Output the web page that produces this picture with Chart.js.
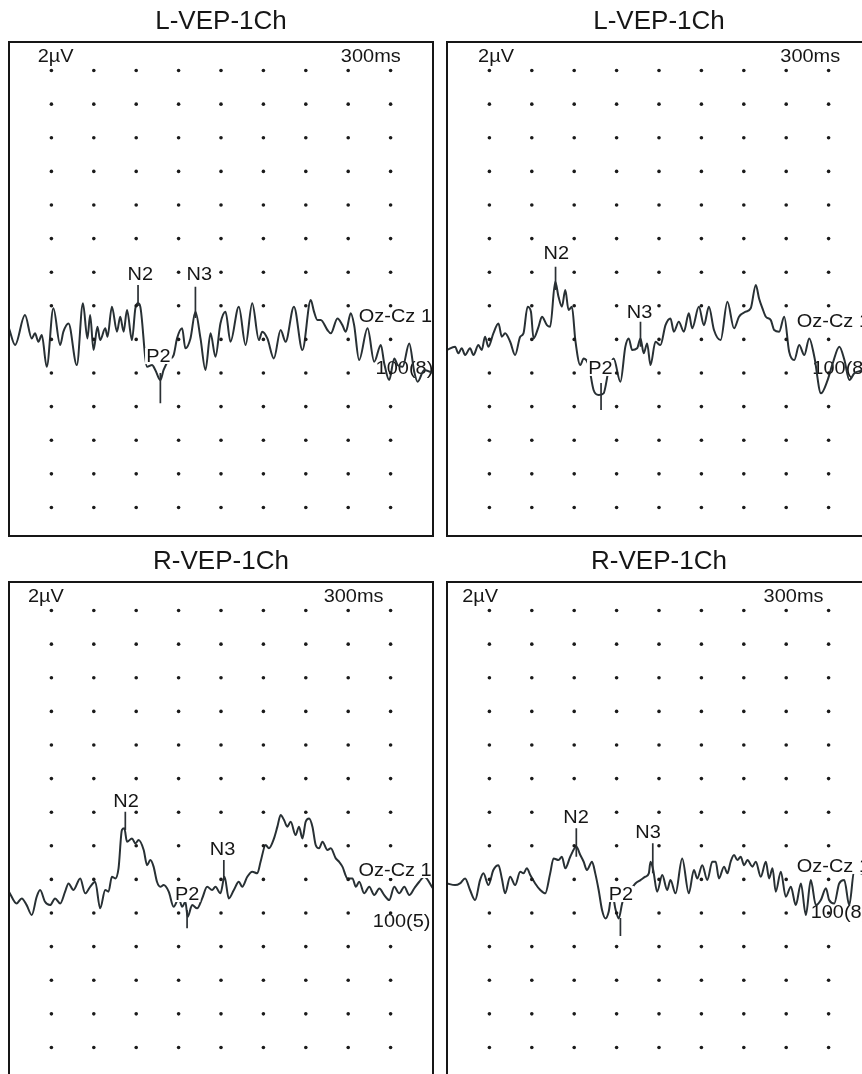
<!DOCTYPE html>
<html>
<head>
<meta charset="utf-8">
<script src="https://cdn.jsdelivr.net/npm/chart.js@4/dist/chart.umd.min.js"></script>
<style>
  html, body { margin: 0; padding: 0; background: #fff; overflow: hidden; width: 862px; height: 1074px; }
  .panel { position: absolute; width: 440px; height: 540px; }
</style>
</head>
<body>
<div class="panel" style="left:0;top:0"><canvas id="lvep1" width="440" height="540"></canvas></div>
<div class="panel" style="left:440px;top:0"><canvas id="lvep2" width="440" height="540"></canvas></div>
<div class="panel" style="left:0;top:540px"><canvas id="rvep1" width="440" height="540"></canvas></div>
<div class="panel" style="left:440px;top:540px"><canvas id="rvep2" width="440" height="540"></canvas></div>
<script>
// grid of dots: every 30 ms, every 2 µV
const gridTimes = [30, 60, 90, 120, 150, 180, 210, 240, 270];
const gridAmps = [14, 12, 10, 8, 6, 4, 2, 0, -2, -4, -6, -8, -10, -12];

// top left trace (ms / µV)
const l1Time = [0,4.3,11.3,16.1,18.4,20.8,23.2,26.7,31.4,36.2,38.5,42.1,48.0,52.3,55.5,57.4,59.8,62.6,64.5,68.1,
  69.7,72.8,76.4,78.7,81.1,83.5,87.0,89.4,91.3,92.9,97.7,101.2,103.5,107.1,109.4,113.0,116.5,118.9,122.5,124.8,
  128.4,131.9,135.5,139.0,142.6,146.1,149.6,153.2,156.7,162.6,167.4,172.1,176.8,179.2,182.8,187.4,192.2,195.7,201.6,207.6,
  213.5,215.8,218.2,220.6,225.3,227.7,232.4,235.9,238.3,241.8,244.2,247.7,253.7,258.4,263.1,265.5,269.0,272.6,275.0,278.5,
  283.2,286.7,289.1,293.8,300];
const l1Amp = [-1.34,-2.33,-0.55,-1.94,-1.64,-2.14,-1.74,-3.63,-0.15,-2.33,-1.54,-1.05,-3.53,0.15,-1.94,-0.55,-2.63,-1.24,-2.04,-1.34,
  -1.84,-0.05,-1.54,-0.65,-1.54,-0.25,-2.04,-0.15,0.15,-0.05,-3.63,-3.53,-3.82,-4.42,-3.82,-3.23,-2.93,-1.94,-1.34,-2.53,
  -1.94,-0.35,-1.94,-3.82,-1.64,-3.03,-1.05,-0.35,-2.14,-0.05,-2.33,0.15,-2.04,-1.54,-1.94,-3.13,-1.44,-2.14,-0.05,-2.63,
  0.34,-0.35,-0.85,-0.85,-1.44,-1.64,-0.75,-1.15,-1.54,-0.45,-1.15,-3.23,-1.34,-3.33,-2.33,-3.43,-4.42,-3.13,-3.53,-3.63,
  -2.24,-3.92,-4.52,-3.82,-4.02];

// top right trace
const l2Time = [0,5.7,8.0,10.4,12.8,16.3,18.7,22.2,24.6,26.9,29.3,32.8,36.4,38.8,41.1,44.7,48.2,51.8,54.1,57.0,
  59.4,61.2,64.8,67.2,70.7,73.0,76.6,78.9,81.3,83.7,86.0,88.4,90.8,94.3,96.7,100.2,103.7,107.3,110.8,114.4,
  117.9,122.7,126.2,128.6,131.0,134.5,136.9,139.2,141.6,144.0,147.5,151.0,154.6,158.1,160.5,164.0,167.6,171.1,173.5,178.2,
  181.8,185.3,188.9,193.6,198.4,203.1,206.6,211.4,214.9,218.5,220.8,223.2,225.6,229.1,231.5,235.0,238.6,242.1,245.7,249.2,
  252.8,256.3,259.9,264.6,269.3,272.9,277.6,281.2,284.7,288.2,294.3,300];
const l2Amp = [-2.63,-2.43,-2.83,-2.53,-2.93,-2.53,-2.93,-2.34,-2.63,-1.84,-2.43,-1.64,-1.05,-1.84,-1.64,-2.14,-2.93,-1.84,-1.64,-0.06,
  -0.35,-1.94,-1.24,-0.65,-1.15,-1.24,1.43,0.54,-0.05,0.94,-0.25,-0.05,-2.04,-3.53,-3.13,-3.53,-5.01,-5.31,-5.21,-3.82,
  -3.13,-4.52,-2.43,-1.94,-2.63,-2.53,-1.94,-2.83,-2.24,-3.53,-2.14,-2.34,-1.15,-0.75,-1.54,-0.95,-1.54,-0.45,-1.34,-0.06,
  -1.15,-0.06,-1.44,-2.04,0.24,-1.34,-0.65,-0.35,-0.15,1.24,0.44,-0.15,-0.65,-0.85,-1.44,-1.54,-0.65,-2.73,-3.23,-2.34,
  -2.93,-1.94,-3.03,-5.21,-4.42,-3.43,-2.43,-3.23,-4.42,-4.02,-3.82,-3.5];

// bottom left trace
const r1Time = [0,5.4,9.0,12.5,16.1,19.6,22.0,25.5,29.1,32.6,36.2,39.7,42.1,45.6,50.4,53.9,57.4,61.0,64.5,68.1,
  70.4,72.8,75.2,77.5,79.9,81.6,83.5,87.0,89.4,91.7,95.3,97.7,100.0,102.3,104.7,107.1,109.4,113.0,116.5,120.1,
  122.5,124.8,126.4,129.6,133.1,136.7,140.2,143.7,146.1,149.6,152.5,155.5,159.1,162.6,165.0,168.6,172.1,175.7,178.0,181.6,
  183.9,187.5,189.9,192.2,194.6,196.9,199.3,202.8,205.2,207.6,209.9,212.3,214.7,217.0,219.4,221.8,225.3,227.7,231.2,233.6,
  235.9,239.5,243.0,245.4,247.8,251.3,254.9,258.4,262.0,265.5,269.0,272.6,276.1,279.7,283.2,286.7,290.3,293.8,300];
const r1Amp = [-2.73,-3.43,-3.13,-3.53,-4.12,-3.03,-2.63,-3.33,-3.53,-3.13,-3.43,-2.73,-2.24,-2.63,-1.94,-2.83,-2.44,-2.14,-3.72,-2.63,
  -2.73,-1.84,-1.94,-1.34,0.94,1.04,0.24,0.44,0.14,0.34,-0.25,-1.15,-0.85,-1.24,-2.14,-2.44,-2.34,-2.73,-3.63,-3.13,
  -3.63,-3.33,-4.22,-3.53,-3.72,-3.13,-2.44,-2.63,-2.44,-2.83,-1.84,-3.13,-2.63,-2.14,-2.44,-1.84,-1.54,-1.64,-0.95,0.05,
  -0.15,0.44,1.14,1.83,1.53,1.14,1.43,0.64,1.14,0.44,1.43,1.63,1.14,0.05,-0.15,0.24,-0.25,-0.15,-0.75,-0.95,
  -1.24,-1.94,-1.94,-2.44,-2.14,-2.83,-2.44,-2.93,-2.54,-2.93,-3.23,-2.44,-2.83,-2.44,-2.93,-2.54,-2.14,-1.84,-2.54];

// bottom right trace
const r2Time = [0,5.7,9.2,12.8,16.3,19.9,23.4,25.8,29.3,32.8,36.4,38.8,41.1,44.7,48.2,51.8,54.1,56.5,58.9,62.4,
  66.0,69.5,73.0,75.4,78.9,81.3,83.7,87.2,91.5,94.3,96.7,99.0,102.6,104.9,107.3,109.7,112.1,114.4,116.8,119.1,
  121.5,123.9,126.2,129.8,133.3,136.9,140.4,142.8,144.0,145.9,148.7,152.3,155.8,158.1,161.7,166.4,171.1,174.7,177.1,180.6,
  184.2,187.7,190.1,192.4,196.0,198.4,200.7,203.1,205.5,207.8,210.2,212.6,216.1,218.5,222.0,225.6,227.9,230.3,232.6,236.2,
  239.7,243.3,246.8,250.4,253.9,257.4,261.0,264.5,268.1,270.4,274.0,277.5,281.1,284.6,288.2,292.9,300];
const r2Amp = [-2.24,-2.34,-2.24,-1.94,-2.63,-3.23,-2.04,-1.64,-2.34,-1.44,-1.15,-1.94,-2.83,-1.84,-2.34,-1.54,-1.64,-1.34,-1.74,-2.24,
  -2.63,-2.83,-1.64,-0.75,-0.85,-0.65,-1.34,-0.65,-0.06,-0.55,-0.95,-1.44,-0.95,-1.64,-2.63,-3.82,-4.32,-3.92,-2.73,-3.73,
  -4.32,-3.43,-2.83,-2.63,-2.24,-2.04,-1.84,-1.64,-0.95,-1.44,-2.73,-1.74,-2.63,-2.04,-2.83,-0.75,-2.83,-1.44,-1.94,-1.15,
  -2.04,-0.95,-0.95,-1.94,-1.24,-1.64,-0.95,-0.55,-0.85,-0.65,-1.15,-0.85,-1.24,-0.95,-1.84,-0.95,-1.94,-1.34,-2.73,-1.54,
  -3.03,-2.44,-3.53,-2.24,-4.12,-2.04,-3.53,-3.23,-2.53,-3.23,-3.43,-2.24,-2.04,-3.53,-1.44,-1.64,-1.8];

// peak ticks: [ms, top µV, bottom µV] for N2, N3, P2
const l1Marks = [[91.3, 1.24, -0.01], [131.9, 1.14, -0.72], [107.1, -4.0, -5.8]];
const l2Marks = [[76.8, 2.33, 0.94], [136.9, -0.95, -2.44], [109.0, -4.6, -6.2]];
const r1Marks = [[82.3, 2.03, 0.94], [152.0, -0.85, -2.04], [126.0, -3.82, -4.9]];
const r2Marks = [[91.5, 1.04, -0.65], [145.6, 0.15, -1.64], [122.7, -4.3, -5.37]];

// text labels: [text, ms, µV]
const l1Labels = [['2µV', 33.0, 14.87], ['300ms', 256.0, 14.87], ['N2', 92.9, 1.89], ['N3', 134.7, 1.89], ['P2', 105.7, -2.99], ['Oz-Cz 1', 273.4, -0.61]];
const l2Labels = [['2µV', 34.7, 14.87], ['300ms', 257.0, 14.87], ['N2', 77.3, 3.14], ['N3', 136.2, -0.40], ['P2', 108.5, -3.70], ['Oz-Cz 1', 273.4, -0.90]];
const r1Labels = [['2µV', 26.1, 14.87], ['300ms', 243.8, 14.87], ['N2', 82.8, 2.68], ['N3', 151.1, -0.19], ['P2', 126.0, -2.87], ['Oz-Cz 1', 273.2, -1.44]];
const r2Labels = [['2µV', 23.5, 14.87], ['300ms', 245.2, 14.87], ['N2', 91.3, 1.73], ['N3', 142.2, 0.84], ['P2', 123.0, -2.87], ['Oz-Cz 1', 273.4, -1.2]];
// sweep count, drawn under the trace
const l1Count = [['100(8)', 279.8, -3.70]];
const l2Count = [['100(8)', 278.9, -3.72]];
const r1Count = [['100(5)', 277.8, -4.46]];
const r2Count = [['100(8)', 277.7, -3.94]];

const FONT = '"Liberation Sans", Arial, sans-serif';
const INK = '#161616';

function drawTexts(chart, list, boxed) {
  const ctx = chart.ctx;
  const xs = chart.scales.x, ys = chart.scales.y;
  ctx.save();
  ctx.beginPath();
  ctx.rect(chart.chartArea.left, chart.chartArea.top, chart.chartArea.right - chart.chartArea.left, chart.chartArea.bottom - chart.chartArea.top);
  ctx.clip();
  ctx.font = '17.5px ' + FONT;
  ctx.textAlign = 'center';
  ctx.textBaseline = 'middle';
  list.forEach(([txt, t, a]) => {
    const px = xs.getPixelForValue(t), py = ys.getPixelForValue(a);
    ctx.save();
    ctx.translate(px, py);
    ctx.scale(1.14, 1);
    if (boxed) {
      const w = ctx.measureText(txt).width;
      ctx.fillStyle = '#fff';
      ctx.fillRect(-w / 2 - 1, -8, w + 2, 16);
    }
    ctx.fillStyle = INK;
    ctx.fillText(txt, 0, 1);
    ctx.restore();
  });
  ctx.restore();
}

const vepDecor = {
  id: 'vepDecor',
  beforeDatasetsDraw(chart, args, opts) {
    drawTexts(chart, opts.under, false);
  },
  afterDatasetsDraw(chart, args, opts) {
    drawTexts(chart, opts.over, true);
    const { left, top, right, bottom } = chart.chartArea;
    const ctx = chart.ctx;
    ctx.save();
    ctx.lineWidth = 2;
    ctx.strokeStyle = INK;
    ctx.strokeRect(left, top, right - left, bottom - top);
    ctx.restore();
  }
};

function makeChart(id, title, time, amp, marks, labels, counts, padLeft, padRight) {
  const dots = [];
  gridTimes.forEach(t => gridAmps.forEach(a => dots.push({ x: t, y: a })));
  const n = Math.min(time.length, amp.length);
  const trace = [];
  for (let i = 0; i < n; i++) trace.push({ x: time[i], y: amp[i] });

  const datasets = [{
    data: dots,
    showLine: false,
    pointRadius: 1.8,
    pointBackgroundColor: '#1a1a1a',
    pointBorderWidth: 0
  }];
  marks.forEach(([t, top, bottom]) => {
    datasets.push({
      data: [{ x: t, y: top }, { x: t, y: bottom }],
      showLine: true,
      borderColor: '#2b3034',
      borderWidth: 1.7,
      pointRadius: 0
    });
  });
  datasets.push({
    data: trace,
    showLine: true,
    borderColor: '#283034',
    borderWidth: 2,
    pointRadius: 0,
    cubicInterpolationMode: 'monotone'
  });

  return new Chart(document.getElementById(id), {
    type: 'scatter',
    data: { datasets },
    options: {
      responsive: false,
      animation: false,
      events: [],
      layout: { padding: { left: padLeft, right: padRight, top: 0, bottom: 4 } },
      scales: {
        x: { type: 'linear', min: 0, max: 300, display: false },
        y: { type: 'linear', min: -13.7, max: 15.7, display: false }
      },
      plugins: {
        legend: { display: false },
        tooltip: { enabled: false },
        title: {
          display: true,
          text: title,
          color: INK,
          font: { family: FONT, size: 26, weight: 'normal' },
          padding: { top: 6, bottom: 4.8 }
        },
        vepDecor: { over: labels, under: counts }
      }
    },
    plugins: [vepDecor]
  });
}

makeChart('lvep1', 'L-VEP-1Ch', l1Time, l1Amp, l1Marks, l1Labels, l1Count, 9, 7);
makeChart('lvep2', 'L-VEP-1Ch', l2Time, l2Amp, l2Marks, l2Labels, l2Count, 7, 9);
makeChart('rvep1', 'R-VEP-1Ch', r1Time, r1Amp, r1Marks, r1Labels, r1Count, 9, 7);
makeChart('rvep2', 'R-VEP-1Ch', r2Time, r2Amp, r2Marks, r2Labels, r2Count, 7, 9);
</script>
</body>
</html>
